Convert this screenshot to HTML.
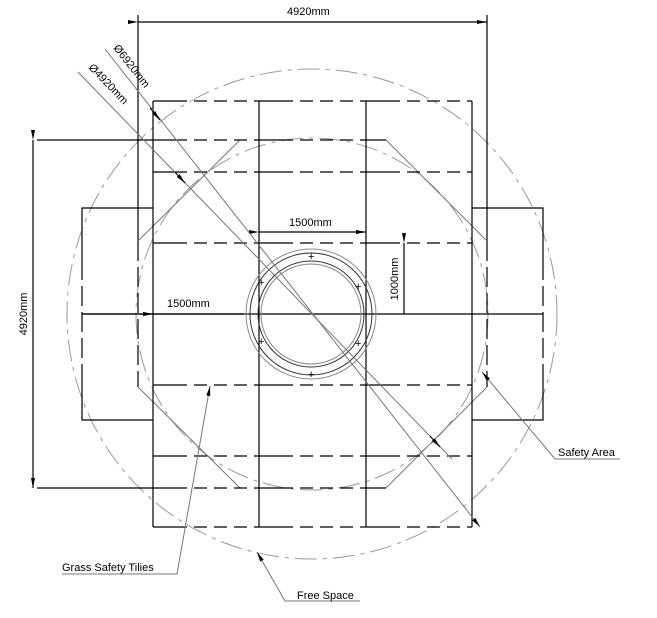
<!DOCTYPE html>
<html><head><style>body{margin:0;background:#fff}svg{display:block}text{font-family:"Liberation Sans",Arial,sans-serif;font-size:11px;fill:#000}</style></head>
<body>
<svg width="657" height="618" viewBox="0 0 657 618" xmlns="http://www.w3.org/2000/svg">
<defs><marker id="a" viewBox="0 0 10 4" refX="10" refY="2" markerWidth="10" markerHeight="4" orient="auto" markerUnits="userSpaceOnUse"><path d="M0,0L10,2L0,4z" fill="#000"/></marker></defs>
<g fill="none" stroke="#999" stroke-width="1" stroke-dasharray="22 6 4 6">
<circle cx="312" cy="314" r="245"/>
<circle cx="312" cy="314" r="176"/>
</g>
<g fill="none" stroke="#000" stroke-width="1.2">
<line x1="37" y1="140" x2="153" y2="140"/>
<line x1="37" y1="488" x2="153" y2="488"/>
<line x1="138" y1="15" x2="138" y2="241"/>
<line x1="487" y1="15" x2="487" y2="241"/>
<line x1="138" y1="241" x2="138" y2="387" stroke-dasharray="20 6"/>
<line x1="487" y1="241" x2="487" y2="387" stroke-dasharray="20 6"/>
</g>
<g stroke="#777" stroke-width="1">
<line x1="138" y1="241" x2="240" y2="140"/><line x1="386" y1="140" x2="487" y2="241"/>
<line x1="487" y1="387" x2="386" y2="488"/><line x1="240" y1="488" x2="138" y2="387"/>
</g>
<g fill="none" stroke="#000" stroke-width="1.2">
<path d="M153,208H82V260M82,370V420H153"/>
<path d="M472,208H543V260M543,370V420H472"/>
<line x1="82" y1="260" x2="82" y2="370" stroke-dasharray="20 6"/>
<line x1="543" y1="260" x2="543" y2="370" stroke-dasharray="20 6"/>
<line x1="153" y1="101" x2="153" y2="527"/><line x1="472" y1="101" x2="472" y2="527"/>
<line x1="259" y1="101" x2="259" y2="527"/><line x1="366" y1="101" x2="366" y2="527"/>
<line x1="82" y1="314" x2="543" y2="314"/>
</g>
<g stroke="#000" stroke-width="1.2" stroke-dasharray="34 7 13 7 13 7 13 7 120">
<path d="M153,101H259M259,101H366M366,101H472"/>
<path d="M153,172H259M259,172H366M366,172H472"/>
<path d="M153,243H259M259,243H366M366,243H472"/>
<path d="M153,385H259M259,385H366M366,385H472"/>
<path d="M153,456H259M259,456H366M366,456H472"/>
<path d="M153,527H259M259,527H366M366,527H472"/>
<path d="M153,140H259M259,140H366M366,140H386"/>
<path d="M153,488H259M259,488H366M366,488H386"/>
</g>
<g fill="none">
<circle cx="311" cy="314" r="65" stroke="#888"/>
<circle cx="311" cy="314" r="61" stroke="#333"/>
<circle cx="311" cy="314" r="53" stroke="#333"/>
<circle cx="311" cy="314" r="50" stroke="#888"/>
</g>
<g fill="#000" font-size="7"><text x="308" y="260">+</text><text x="308" y="378">+</text><text x="258" y="286">+</text><text x="355" y="290">+</text><text x="258" y="345">+</text><text x="355" y="347">+</text></g>
<g stroke="#000" stroke-width="1.2" fill="none">
<line x1="138" y1="22" x2="487" y2="22" marker-start="url(#a)" marker-end="url(#a)"/>
<line x1="33" y1="140" x2="33" y2="488" marker-start="url(#a)" marker-end="url(#a)"/>
<line x1="259" y1="232" x2="366" y2="232" marker-start="url(#a)" marker-end="url(#a)"/>
<line x1="404" y1="243" x2="404" y2="314" marker-start="url(#a)"/>
<line x1="82" y1="314" x2="153" y2="314" marker-end="url(#a)"/>
<line x1="153" y1="314" x2="244" y2="314" marker-start="url(#a)"/>
</g>
<text x="287" y="15">4920mm</text>
<text x="289" y="226">1500mm</text>
<text x="167" y="307">1500mm</text>
<text transform="translate(27,314) rotate(-90)" text-anchor="middle">4920mm</text>
<text transform="translate(398,279) rotate(-90)" text-anchor="middle">1000mm</text>
<g stroke="#777" stroke-width="1" fill="none">
<line x1="105" y1="49" x2="480" y2="527" marker-end="url(#a)"/>
<line x1="78" y1="72" x2="452" y2="459"/>
</g>
<line x1="150" y1="108" x2="160" y2="120" stroke="#000" marker-end="url(#a)"/>
<line x1="175" y1="172" x2="185" y2="183" stroke="#000" marker-end="url(#a)"/>
<line x1="430" y1="436" x2="440" y2="447" stroke="#000" marker-end="url(#a)"/>
<text transform="translate(113,48) rotate(52)">Ø6920mm</text>
<text transform="translate(88,68) rotate(46)">Ø4920mm</text>
<g stroke="#777" fill="none">
<path d="M620,459H555L482,372" marker-end="url(#a)"/>
<path d="M62,574H177L210,386" marker-end="url(#a)"/>
<path d="M360,601H285L257,552" marker-end="url(#a)"/>
</g>
<text x="558" y="456">Safety Area</text>
<text x="62" y="571">Grass Safety Tilies</text>
<text x="297" y="599">Free Space</text>
</svg>
</body></html>
